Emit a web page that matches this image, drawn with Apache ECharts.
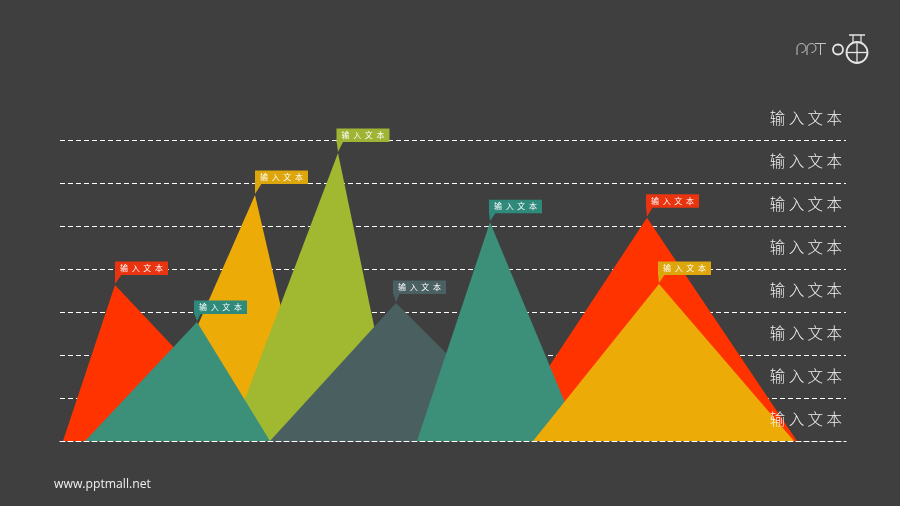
<!DOCTYPE html>
<html><head><meta charset="utf-8">
<style>html,body{margin:0;padding:0;background:#3f3f3f}#c{width:900px;height:506px}</style>
<script src="https://cdn.jsdelivr.net/npm/echarts@6/dist/echarts.min.js"></script></head>
<body><div id="c"></div>
<script>
// x: horizontal position along the baseline, y: level on the dashed scale (0..7)
const red1    = [[3,0],[55,3.63],[202,0]];
const yellow1 = [[87,0],[195,5.72],[252,0]];
const green1  = [[169,0],[278,6.70],[338,0]];
const teal1   = [[25,0],[137,2.77],[210,0]];
const slate1  = [[210,0],[336,3.21],[474,0]];
const red2    = [[440,0],[587,5.19],[737,0]];
const teal2   = [[357,0],[430,5.09],[521,0]];
const yellow2 = [[473,0],[599,3.65],[734,0]];
const tickLabels = ['输 入 文 本','输 入 文 本','输 入 文 本','输 入 文 本','输 入 文 本','输 入 文 本','输 入 文 本','输 入 文 本'];
const flagText = '输  入  文  本';
const footer = 'www.pptmall.net';

const mountains = [
  {d:red1,c:'#ff3300',f:'#ea3410',o:0,g:10},
  {d:yellow1,c:'#edab07',f:'#dca60c',o:0,g:11},
  {d:green1,c:'#a0b931',f:'#9fb434',o:-1.5,g:11},
  {d:teal1,c:'#3c8f79',f:'#2f8a7c',o:-3,g:8},
  {d:slate1,c:'#4a6060',f:'#4a6063',o:-3,g:9},
  {d:red2,c:'#ff3300',f:'#ea3410',o:-1,g:10},
  {d:teal2,c:'#3c8f79',f:'#2f8a7c',o:-1,g:9},
  {d:yellow2,c:'#edab07',f:'#dca60c',o:-1,g:9}
];
const lineSeries = mountains.map(m=>({
  type:'line',data:m.d,showSymbol:false,symbol:'none',silent:true,z:2,
  lineStyle:{width:0,opacity:0},itemStyle:{color:m.c},
  areaStyle:{color:m.c,opacity:1},animation:false
}));
const flagSeries = {
  type:'custom',z:5,silent:true,animation:false,clip:false,
  encode:{x:0,y:1},
  data:mountains.map((m,i)=>[m.d[1][0],m.d[1][1],i]),
  renderItem(params,api){
    const p=api.coord([api.value(0),api.value(1)]);
    const m=mountains[api.value(2)];
    const bx=p[0]+m.o,bb=p[1]-m.g,w=53,h=13.5;
    return {type:'group',children:[
      {type:'polygon',shape:{points:[[bx,bb-1],[bx+7,bb-1],[p[0],p[1]-1]]},style:{fill:m.f}},
      {type:'rect',shape:{x:bx,y:bb-h,width:w,height:h},style:{fill:m.f}},
      {type:'text',x:bx+w/2,y:bb-h/2,style:{text:flagText,fill:'#ffffff',font:'8px "Noto Sans CJK SC"',align:'center',verticalAlign:'middle'}}
    ]};
  }
};
const logoThin={fill:'none',stroke:'#c4c4c4',lineWidth:1};
const logoP=x=>[
  {type:'line',z:20,shape:{x1:x,y1:48,x2:x,y2:55},style:logoThin},
  {type:'arc',z:20,shape:{cx:x+4.5,cy:48,r:4.5,startAngle:Math.PI,endAngle:Math.PI*0.5,clockwise:true},style:logoThin}
];
const chart=echarts.init(document.getElementById('c'),null,{renderer:'canvas'});
chart.setOption({
  backgroundColor:'#3f3f3f',animation:false,
  grid:{left:60,right:54,top:140,bottom:65},
  xAxis:{type:'value',min:0,max:786,z:10,splitLine:{show:false},axisTick:{show:false},axisLabel:{show:false},
    axisLine:{show:true,lineStyle:{color:'#ffffff',width:1.2,type:[5,3]}}},
  yAxis:[
    {type:'value',min:0,max:7,interval:1,position:'left',z:0,axisLine:{show:false},axisTick:{show:false},axisLabel:{show:false},
      splitLine:{show:true,lineStyle:{color:'#ffffff',width:1.2,type:[5,3]}}},
    {type:'value',min:0,max:7,interval:1,position:'right',z:10,axisLine:{show:false,onZero:false},axisTick:{show:false},splitLine:{show:false},
      axisLabel:{show:true,inside:true,margin:4,color:'#f2f2f2',fontSize:15.5,fontFamily:'"Noto Sans CJK SC"',fontWeight:300,
        verticalAlign:'bottom',lineHeight:42.9,showMinLabel:true,showMaxLabel:true,hideOverlap:false,
        formatter:v=>tickLabels[v]}}
  ],
  series:[...lineSeries,flagSeries],
  graphic:{elements:[
    {type:'text',x:54,y:479,z:20,style:{text:footer,fill:'#f0f0f0',font:'12.2px "Open Sans"'}},
    ...logoP(797),...logoP(807),
    {type:'line',z:20,shape:{x1:815,y1:43.5,x2:826,y2:43.5},style:logoThin},
    {type:'line',z:20,shape:{x1:820.5,y1:43.5,x2:820.5,y2:55},style:logoThin},
    {type:'circle',z:20,shape:{cx:838,cy:49.5,r:5},style:{fill:'none',stroke:'#e6e6e6',lineWidth:1.8}},
    {type:'circle',z:20,shape:{cx:857,cy:52.5,r:10.5},style:{fill:'none',stroke:'#e6e6e6',lineWidth:1.8}},
    {type:'line',z:20,shape:{x1:846.5,y1:52.5,x2:867.5,y2:52.5},style:{stroke:'#e6e6e6',lineWidth:1.3}},
    {type:'line',z:20,shape:{x1:857,y1:42,x2:857,y2:63},style:{stroke:'#e6e6e6',lineWidth:1.3}},
    {type:'line',z:20,shape:{x1:849,y1:35,x2:865,y2:35},style:{stroke:'#e6e6e6',lineWidth:1.5}},
    {type:'line',z:20,shape:{x1:853,y1:35,x2:853,y2:42},style:{stroke:'#e6e6e6',lineWidth:1.2}},
    {type:'line',z:20,shape:{x1:861,y1:35,x2:861,y2:42},style:{stroke:'#e6e6e6',lineWidth:1.2}}
  ]}
});
</script></body></html>
